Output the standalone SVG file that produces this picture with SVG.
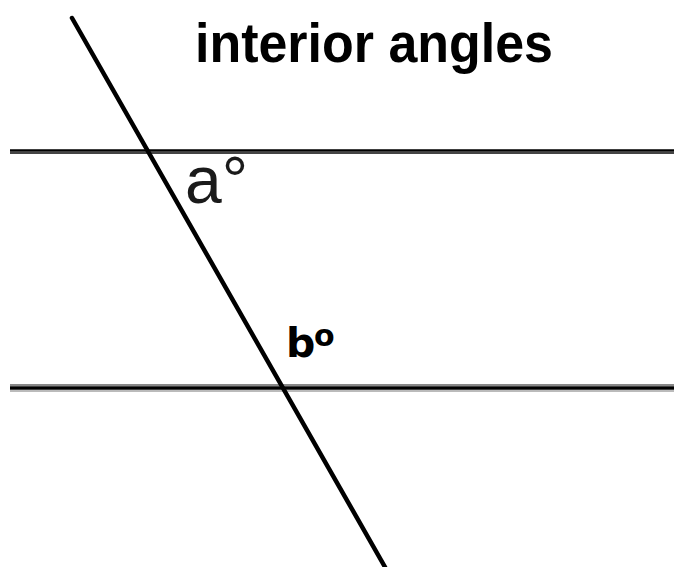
<svg xmlns="http://www.w3.org/2000/svg" width="674" height="567" viewBox="0 0 674 567">
<style>
.title{font-family:"Liberation Sans","Arial",sans-serif;font-weight:bold;font-size:55px;fill:#000}
.lbl-a{font-family:"Liberation Sans","Arial",sans-serif;font-size:66px;fill:#1a1a1a}
.lbl-b{font-family:"DejaVu Sans","Verdana",sans-serif;font-weight:bold;font-size:41px;fill:#000}
.ln{stroke:#000;fill:none}
</style>
<rect width="674" height="567" fill="#fff"/>
<g id="lines">
<line class="ln" x1="10" y1="150.5" x2="674" y2="150.5" stroke-width="2.5"/>
<line x1="10" y1="153" x2="674" y2="153" stroke="#444" stroke-width="2"/>
<line x1="10" y1="385" x2="674" y2="385" stroke="#888" stroke-width="2"/>
<line x1="10" y1="391" x2="674" y2="391" stroke="#bbb" stroke-width="2"/>
<line class="ln" x1="10" y1="388" x2="674" y2="388" stroke-width="3.5"/>
<line class="ln" x1="72" y1="18" x2="385" y2="567" stroke-width="4.5" stroke-linecap="round"/>
</g>
<g id="title"><text class="title" x="195" y="62" textLength="358" lengthAdjust="spacingAndGlyphs">interior angles</text></g>
<g id="label-a"><text class="lbl-a" x="185" y="203">a°</text></g>
<g id="label-b"><text class="lbl-b" x="286" y="357">b<tspan font-size="30" x="314" y="346">o</tspan></text></g>
</svg>
